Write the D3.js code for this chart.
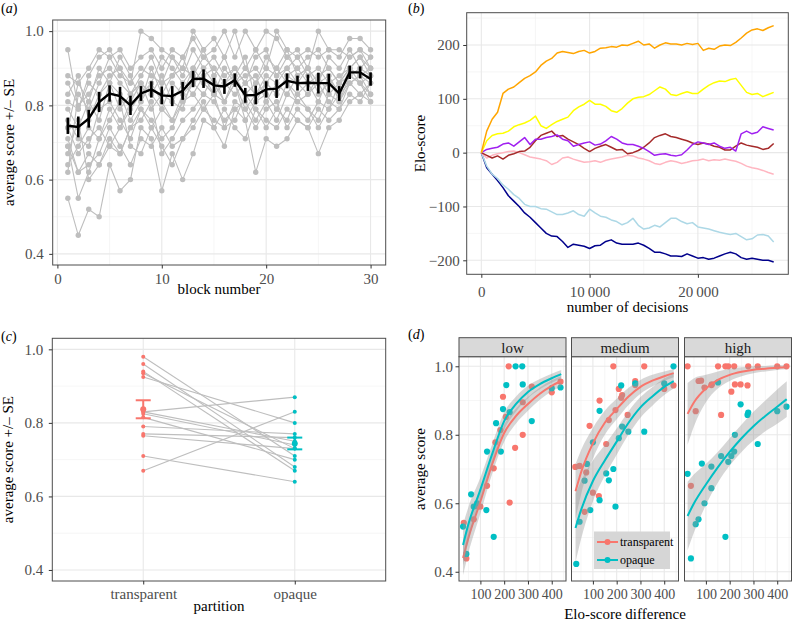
<!DOCTYPE html>
<html><head><meta charset="utf-8">
<script src="https://cdn.jsdelivr.net/npm/d3@7"></script>
<style>body{margin:0;background:#fff}svg{display:block}</style>
</head><body><svg id="c" width="792" height="622"></svg>
<script>
// ---------------- DATA ----------------
// (a) individual participants' average score per block, and the mean +/- SE
const blocks = [1,2,3,4,5,6,7,8,9,10,11,12,13,14,15,16,17,18,19,20,21,22,23,24,25,26,27,28,29,30];
const participantScores = [
 [0.55,0.45,0.52,0.50,0.64,0.57,0.60,0.74,0.71,0.57,0.67,0.60,0.67,0.76,0.74,0.69,0.79,0.76,0.62,0.71,0.69,0.71,0.76,0.74,0.67,0.74,0.76,0.81,0.83,0.81],
 [0.95,0.79,0.88,0.93,0.95,0.90,0.86,1.00,0.98,0.95,0.93,0.90,1.00,0.95,0.98,0.93,1.00,0.90,0.95,1.00,0.98,0.93,0.95,0.90,1.00,0.95,0.93,0.98,0.98,0.95],
 [0.88,0.86,0.90,0.95,0.93,0.95,0.90,0.93,0.95,0.90,0.95,0.93,0.98,0.93,0.95,1.00,0.93,1.00,0.95,0.90,1.00,0.95,0.93,0.95,0.93,0.95,0.95,0.93,0.95,0.93],
 [0.86,0.80,0.83,0.88,0.90,0.86,0.83,0.88,0.93,0.86,0.88,0.90,0.88,0.93,0.90,0.86,0.88,0.83,0.86,0.90,0.88,0.90,0.93,0.88,0.90,0.86,0.88,0.90,0.93,0.90],
 [0.83,0.88,0.76,0.83,0.86,0.79,0.83,0.86,0.83,0.79,0.86,0.83,0.90,0.86,0.83,0.90,0.86,0.79,0.83,0.86,0.83,0.88,0.86,0.90,0.83,0.86,0.83,0.88,0.90,0.88],
 [0.79,0.74,0.81,0.76,0.86,0.83,0.76,0.81,0.90,0.83,0.81,0.79,0.88,0.86,0.83,0.81,0.86,0.76,0.81,0.83,0.79,0.86,0.81,0.83,0.86,0.81,0.79,0.86,0.88,0.86],
 [0.76,0.71,0.69,0.79,0.81,0.76,0.71,0.79,0.76,0.71,0.74,0.81,0.83,0.79,0.76,0.74,0.81,0.79,0.74,0.79,0.81,0.74,0.79,0.76,0.81,0.79,0.83,0.86,0.83,0.86],
 [0.74,0.67,0.71,0.74,0.69,0.67,0.74,0.76,0.81,0.67,0.71,0.76,0.79,0.83,0.81,0.76,0.79,0.81,0.76,0.81,0.76,0.83,0.81,0.79,0.76,0.83,0.81,0.86,0.88,0.83],
 [0.71,0.62,0.64,0.67,0.74,0.69,0.64,0.71,0.69,0.74,0.69,0.71,0.76,0.81,0.74,0.79,0.74,0.71,0.79,0.76,0.74,0.79,0.76,0.74,0.79,0.76,0.79,0.83,0.81,0.86],
 [0.69,0.55,0.62,0.71,0.76,0.81,0.69,0.67,0.74,0.79,0.76,0.81,0.86,0.88,0.83,0.86,0.90,0.86,0.83,0.88,0.86,0.90,0.86,0.83,0.88,0.90,0.86,0.90,0.88,0.90],
 [0.67,0.76,0.60,0.64,0.69,0.74,0.79,0.83,0.86,0.81,0.76,0.83,0.86,0.90,0.86,0.81,0.86,0.88,0.90,0.86,0.83,0.88,0.90,0.86,0.88,0.83,0.86,0.88,0.86,0.88],
 [0.64,0.69,0.74,0.71,0.79,0.74,0.81,0.86,0.83,0.88,0.81,0.86,0.83,0.88,0.90,0.86,0.83,0.86,0.88,0.81,0.86,0.83,0.88,0.90,0.86,0.88,0.83,0.90,0.93,0.88],
 [0.62,0.83,0.79,0.86,0.93,0.88,0.86,0.90,0.88,0.86,0.93,0.88,0.95,0.90,0.93,0.88,0.90,0.86,0.93,0.95,0.88,0.93,0.90,0.93,0.95,0.90,0.86,0.93,0.95,0.90],
 [0.74,0.86,0.81,0.90,0.86,0.93,0.88,0.81,0.86,0.93,0.90,0.86,0.90,0.95,0.88,0.93,0.86,0.90,0.86,0.93,0.90,0.95,0.88,0.90,0.86,0.93,0.90,0.95,0.90,0.93],
 [0.81,0.79,0.86,0.83,0.88,0.90,0.83,0.86,0.79,0.83,0.88,0.93,0.86,0.83,0.88,0.81,0.88,0.93,0.81,0.86,0.90,0.86,0.83,0.86,0.81,0.88,0.81,0.88,0.86,0.81],
 [0.69,0.62,0.67,0.64,0.71,0.67,0.74,0.79,0.74,0.69,0.64,0.71,0.74,0.79,0.83,0.74,0.76,0.83,0.79,0.74,0.79,0.76,0.83,0.79,0.74,0.79,0.86,0.90,0.86,0.83]
];
const meanScore = [0.745,0.742,0.764,0.809,0.832,0.825,0.800,0.832,0.843,0.827,0.825,0.839,0.871,0.872,0.854,0.851,0.868,0.827,0.828,0.843,0.845,0.866,0.860,0.861,0.860,0.860,0.832,0.889,0.889,0.871];
const meanSE = [0.022,0.028,0.024,0.027,0.022,0.025,0.026,0.020,0.022,0.024,0.027,0.024,0.022,0.025,0.020,0.020,0.018,0.020,0.025,0.022,0.025,0.020,0.020,0.022,0.028,0.025,0.020,0.018,0.016,0.018];

// (b) Elo-score trajectories, sampled every 500 decisions
const eloDecisions = d3.range(0, 27001, 500);
const eloOrange = [0,40,62,75,110,118,122,130,138,143,150,162,170,175,185,188,186,184,188,190,185,188,194,195,197,196,200,199,203,207,200,202,194,200,204,202,202,200,203,201,203,190,194,192,198,200,199,205,213,222,228,230,227,232,236];
const eloYellow = [0,22,32,35,36,40,48,52,55,60,68,50,45,52,58,62,66,78,85,90,97,90,90,86,78,75,82,92,100,103,104,108,115,122,118,108,106,110,113,110,110,118,125,130,133,132,136,138,125,112,108,110,104,108,112];
const eloPurple = [0,6,8,10,16,18,12,20,28,15,25,25,28,30,33,25,22,12,15,18,20,14,16,22,30,25,18,15,15,12,8,2,-5,-3,-2,-5,-6,-4,5,15,20,18,15,18,12,8,10,3,35,40,35,38,48,45,42];
const eloBrown = [0,-5,-10,-6,-12,-5,-2,2,3,10,22,32,36,40,30,32,25,20,15,8,2,8,12,15,10,5,6,-2,0,4,10,18,28,32,35,30,28,25,22,18,15,18,16,12,10,5,5,12,18,14,12,10,6,8,17];
const eloPink = [0,-10,-5,-2,0,2,3,0,-4,-8,-10,-12,-15,-22,-18,-10,-8,-12,-15,-18,-17,-15,-18,-14,-12,-10,-8,-5,-6,-10,-12,-15,-20,-22,-18,-15,-17,-20,-18,-15,-14,-12,-15,-13,-14,-12,-14,-16,-20,-25,-28,-30,-33,-37,-40];
const eloLightBlue = [0,-25,-40,-48,-60,-68,-78,-85,-96,-100,-100,-104,-105,-110,-115,-115,-112,-108,-115,-118,-105,-112,-118,-120,-125,-128,-134,-130,-122,-135,-142,-140,-135,-138,-130,-122,-122,-128,-132,-130,-138,-140,-142,-145,-148,-150,-152,-150,-156,-162,-160,-153,-152,-155,-166];
const eloNavy = [0,-28,-40,-52,-65,-80,-90,-100,-112,-120,-130,-140,-150,-155,-156,-165,-176,-170,-172,-174,-178,-173,-172,-165,-162,-168,-170,-170,-170,-168,-172,-178,-185,-185,-188,-192,-192,-193,-188,-192,-196,-195,-198,-196,-192,-188,-185,-188,-195,-198,-196,-198,-200,-200,-203];
const eloSeries = [eloNavy, eloLightBlue, eloPink, eloBrown, eloPurple, eloYellow, eloOrange];

// (c) per-participant average score by partition
const partitions = ['transparent','opaque'];
const transparentScores = [0.98,0.96,0.94,0.935,0.925,0.83,0.83,0.825,0.815,0.79,0.77,0.765,0.71,0.67];
const opaqueScores      = [0.71,0.68,0.67,0.73,0.80,0.87,0.75,0.74,0.70,0.77,0.76,0.73,0.64,0.83];
const partitionMean = [0.837,0.744];
const partitionSE = [0.0245,0.016];

// (d) average score vs Elo-score difference, by facet and partition
const facets = ['low','medium','high'];
const lowTransparent = [[30,0.543],[41,0.439],[72,0.553],[90,0.59],[100,0.59],[128,0.651],[156,0.702],[163,0.778],[184,0.814],[195,0.911],[207,0.852],[219,1.0],[223,0.602],[246,0.762],[278,0.80],[278,0.895],[316,0.941],[400,0.924],[437,0.955]];
const lowOpaque = [[27,0.532],[41,0.452],[61,0.626],[72,0.59],[86,0.60],[125,0.58],[128,0.751],[156,0.502],[166,0.834],[186,0.751],[195,0.875],[209,0.945],[223,0.866],[248,1.0],[276,1.0],[278,0.947],[316,0.84],[400,0.936],[437,0.938]];
const mediumTransparent = [[26,0.706],[44,0.709],[65,0.575],[72,0.69],[86,0.826],[100,0.631],[125,0.621],[128,0.90],[156,0.773],[167,0.843],[186,1.0],[195,0.872],[209,0.934],[219,0.908],[223,0.916],[246,0.858],[278,0.957],[278,0.945],[316,1.0],[400,0.934],[439,0.944]];
const mediumOpaque = [[30,0.423],[44,0.546],[65,0.666],[75,0.715],[89,0.58],[100,0.778],[128,0.609],[128,0.87],[156,0.687],[167,0.667],[186,0.70],[195,0.59],[209,0.79],[219,0.944],[223,0.824],[249,0.809],[278,0.95],[316,0.809],[400,0.95],[439,1.0]];
const highTransparent = [[23,1.0],[37,0.651],[57,0.869],[69,0.957],[80,0.958],[94,0.938],[123,0.945],[125,0.947],[151,1.0],[164,0.858],[182,1.0],[194,1.0],[207,0.926],[219,1.0],[222,0.947],[246,0.947],[275,0.944],[278,1.0],[318,1.0],[400,1.0],[439,1.0]];
const highOpaque = [[23,0.686],[37,0.439],[57,0.539],[69,0.553],[83,0.716],[94,0.60],[123,0.707],[123,0.644],[151,0.953],[164,0.738],[182,0.502],[194,0.721],[207,0.738],[219,0.751],[222,0.80],[246,0.889],[275,0.858],[278,0.865],[318,0.773],[400,0.869],[439,0.882]];
const fitXLow = [27,50,100,150,200,250,300,350,400,440];
const fitXMedium = [27,50,100,150,200,250,300,350,400,440];
const fitXHigh = [23,50,100,150,200,250,300,350,400,440];
const fitLowT = [0.44,0.50,0.605,0.715,0.805,0.855,0.89,0.92,0.943,0.957];
const seLowT  = [0.05,0.045,0.035,0.028,0.025,0.022,0.02,0.018,0.016,0.015];
const fitLowO = [0.478,0.54,0.64,0.745,0.84,0.89,0.925,0.948,0.965,0.977];
const seLowO  = [0.06,0.05,0.035,0.028,0.025,0.022,0.018,0.015,0.013,0.012];
const fitMedT = [0.635,0.69,0.775,0.835,0.875,0.912,0.94,0.958,0.971,0.98];
const seMedT  = [0.08,0.065,0.045,0.035,0.03,0.025,0.02,0.017,0.014,0.012];
const fitMedO = [0.528,0.58,0.665,0.725,0.78,0.835,0.88,0.912,0.94,0.957];
const seMedO  = [0.1,0.085,0.06,0.045,0.038,0.034,0.03,0.027,0.024,0.022];
const fitHighT = [0.861,0.895,0.935,0.96,0.975,0.984,0.99,0.993,0.996,0.997];
const seHighT  = [0.09,0.07,0.04,0.025,0.018,0.013,0.01,0.008,0.007,0.006];
const fitHighO = [0.563,0.60,0.655,0.705,0.75,0.79,0.825,0.855,0.882,0.904];
const seHighO  = [0.1,0.085,0.06,0.045,0.04,0.04,0.042,0.045,0.05,0.052];

// ---------------- STYLE ----------------
const FONT = "'Liberation Serif','Times New Roman',serif";
const RED = '#F8766D', TEAL = '#00BFC4';
const eloColors = ['#00008B','#ADD8E6','#FFB6C1','#A52A2A','#A020F0','#FFFF00','#FFA500'];
const svg = d3.select('#c');

function grid(g, x, y, xMaj, xMin, yMaj, yMin) {
  const [x0, x1] = x.range(); const [yb, yt] = y.range();
  g.append('rect').attr('x', x0).attr('y', yt).attr('width', x1 - x0).attr('height', yb - yt).attr('fill', '#fff');
  const vl = (vals, w, c) => g.append('g').selectAll('line').data(vals).join('line')
    .attr('x1', d => x(d)).attr('x2', d => x(d)).attr('y1', yt).attr('y2', yb).attr('stroke', c).attr('stroke-width', w);
  const hl = (vals, w, c) => g.append('g').selectAll('line').data(vals).join('line')
    .attr('y1', d => y(d)).attr('y2', d => y(d)).attr('x1', x0).attr('x2', x1).attr('stroke', c).attr('stroke-width', w);
  vl(xMin, 0.6, '#F0F0F0'); hl(yMin, 0.6, '#F0F0F0');
  vl(xMaj, 1.1, '#E8E8E8'); hl(yMaj, 1.1, '#E8E8E8');
}
function border(g, x, y) {
  const [x0, x1] = x.range(); const [yb, yt] = y.range();
  g.append('rect').attr('x', x0).attr('y', yt).attr('width', x1 - x0).attr('height', yb - yt)
    .attr('fill', 'none').attr('stroke', '#4d4d4d').attr('stroke-width', 1);
}
function styleAxis(a, size) {
  a.attr('font-family', FONT).attr('font-size', size);
  a.select('.domain').remove();
  a.selectAll('line').attr('stroke', '#333');
  a.selectAll('text').attr('fill', '#4D4D4D');
}
function yAxis(g, y, xpos, vals, fmt, pad, size) {
  const a = g.append('g').attr('transform', `translate(${xpos},0)`)
    .call(d3.axisLeft(y).tickValues(vals).tickFormat(fmt).tickSize(3.5).tickPadding(pad));
  styleAxis(a, size);
}
function xAxis(g, x, ypos, vals, fmt, pad, size) {
  const a = g.append('g').attr('transform', `translate(0,${ypos})`)
    .call(d3.axisBottom(x).tickValues(vals).tickFormat(fmt).tickSize(3.5).tickPadding(pad));
  styleAxis(a, size);
}
function title(txt, x, y, rot) {
  const t = svg.append('text').attr('font-family', FONT).attr('font-size', 15).attr('fill', '#000')
    .attr('text-anchor', 'middle').text(txt);
  if (rot) t.attr('transform', `translate(${x},${y}) rotate(-90)`); else t.attr('x', x).attr('y', y);
}
function tag(letter, x, y) {
  const t = svg.append('text').attr('font-family', FONT).attr('font-size', 14).attr('x', x).attr('y', y);
  t.append('tspan').text('(');
  t.append('tspan').attr('font-style', 'italic').text(letter);
  t.append('tspan').text(')');
}
const f1 = d3.format('.1f');

// ---------------- PANEL A ----------------
{
  const g = svg.append('g');
  const x = d3.scaleLinear([-0.45, 31.45], [52.7, 385.7]);
  const y = d3.scaleLinear([0.37, 1.03], [265, 20]);
  grid(g, x, y, [0, 10, 20, 30], [5, 15, 25], [0.4, 0.6, 0.8, 1.0], [0.5, 0.7, 0.9]);
  const line = d3.line().x((d, i) => x(blocks[i])).y(d => y(d));
  participantScores.forEach(p => {
    g.append('path').attr('d', line(p)).attr('fill', 'none').attr('stroke', '#BEBEBE').attr('stroke-width', 1.1);
    g.append('g').selectAll('circle').data(p).join('circle')
      .attr('cx', (d, i) => x(blocks[i])).attr('cy', d => y(d)).attr('r', 2.7).attr('fill', '#BEBEBE');
  });
  g.append('path').attr('d', line(meanScore)).attr('fill', 'none').attr('stroke', '#000').attr('stroke-width', 2.4);
  g.append('g').selectAll('line').data(meanScore).join('line')
    .attr('x1', (d, i) => x(blocks[i])).attr('x2', (d, i) => x(blocks[i]))
    .attr('y1', (d, i) => y(d - meanSE[i])).attr('y2', (d, i) => y(d + meanSE[i]))
    .attr('stroke', '#000').attr('stroke-width', 2.6);
  border(g, x, y);
  yAxis(g, y, 52.7, [0.4, 0.6, 0.8, 1.0], f1, 5.5, 15);
  xAxis(g, x, 265, [0, 10, 20, 30], d3.format('d'), 4.8, 15);
  title('average score +/\u2013 SE', 14, 142.5, true);
  title('block number', 219, 294);
  tag('a', 1, 13);
}

// ---------------- PANEL B ----------------
{
  const g = svg.append('g');
  const x = d3.scaleLinear([-1350, 28350], [466.7, 788.3]);
  const y = d3.scaleLinear([-226, 260], [274.3, 12.7]);
  grid(g, x, y, [0, 10000, 20000], [5000, 15000, 25000], [-200, -100, 0, 100, 200], [-150, -50, 50, 150, 250]);
  const line = d3.line().x((d, i) => x(eloDecisions[i])).y(d => y(d));
  eloSeries.forEach((s, k) => {
    g.append('path').attr('d', line(s)).attr('fill', 'none').attr('stroke', eloColors[k])
      .attr('stroke-width', 1.5).attr('stroke-linejoin', 'round');
  });
  border(g, x, y);
  yAxis(g, y, 466.7, [-200, -100, 0, 100, 200], d => d < 0 ? '\u2212' + Math.abs(d) : String(d), 3.5, 15);
  xAxis(g, x, 274.3, [0, 10000, 20000], d => d === 0 ? '0' : (d / 1000) + '\u2009000', 8.5, 15);
  title('Elo-score', 425, 143.5, true);
  title('number of decisions', 627.5, 312);
  tag('b', 408, 13);
}

// ---------------- PANEL C ----------------
{
  const g = svg.append('g');
  const x = d3.scalePoint(partitions, [52.3, 385.7]).padding(0.6);
  const y = d3.scaleLinear([0.37, 1.03], [581, 338.3]);
  grid(g, x, y, partitions, [], [0.4, 0.6, 0.8, 1.0], [0.5, 0.7, 0.9]);
  g.append('g').selectAll('line').data(transparentScores).join('line')
    .attr('x1', x('transparent')).attr('x2', x('opaque'))
    .attr('y1', d => y(d)).attr('y2', (d, i) => y(opaqueScores[i]))
    .attr('stroke', '#BEBEBE').attr('stroke-width', 1.1);
  g.append('g').selectAll('circle').data(transparentScores).join('circle')
    .attr('cx', x('transparent')).attr('cy', d => y(d)).attr('r', 2).attr('fill', RED);
  g.append('g').selectAll('circle').data(opaqueScores).join('circle')
    .attr('cx', x('opaque')).attr('cy', d => y(d)).attr('r', 2).attr('fill', TEAL);
  partitions.forEach((p, i) => {
    const c = i === 0 ? RED : TEAL, cx = x(p), m = partitionMean[i], se = partitionSE[i];
    const eb = g.append('g').attr('stroke', c).attr('stroke-width', 2);
    eb.append('line').attr('x1', cx).attr('x2', cx).attr('y1', y(m - se)).attr('y2', y(m + se));
    eb.append('line').attr('x1', cx - 7.5).attr('x2', cx + 7.5).attr('y1', y(m - se)).attr('y2', y(m - se));
    eb.append('line').attr('x1', cx - 7.5).attr('x2', cx + 7.5).attr('y1', y(m + se)).attr('y2', y(m + se));
    g.append('circle').attr('cx', cx).attr('cy', y(m)).attr('r', 3).attr('fill', c);
  });
  border(g, x, y);
  yAxis(g, y, 52.3, [0.4, 0.6, 0.8, 1.0], f1, 5.5, 15);
  xAxis(g, x, 581, partitions, d => d, 4.3, 15);
  title('average score +/\u2013 SE', 13, 459.6, true);
  title('partition', 219, 611);
  tag('c', 1, 341);
}

// ---------------- PANEL D ----------------
{
  const ranges = [[459, 566], [571.5, 678.5], [684.5, 791.5]];
  const pts = [[lowTransparent, lowOpaque], [mediumTransparent, mediumOpaque], [highTransparent, highOpaque]];
  const fitX = [fitXLow, fitXMedium, fitXHigh];
  const fits = [[[fitLowT, seLowT], [fitLowO, seLowO]], [[fitMedT, seMedT], [fitMedO, seMedO]], [[fitHighT, seHighT], [fitHighO, seHighO]]];
  const y = d3.scaleLinear([0.373, 1.028], [581, 356.7]);
  facets.forEach((f, k) => {
    const g = svg.append('g');
    const x = d3.scaleLinear([10, 460], ranges[k]);
    grid(g, x, y, [100, 200, 300, 400], [50, 150, 250, 350, 450], [0.4, 0.6, 0.8, 1.0], [0.5, 0.7, 0.9]);
    [0, 1].forEach(j => {
      g.append('g').selectAll('circle').data(pts[k][j]).join('circle')
        .attr('cx', d => x(d[0])).attr('cy', d => y(d[1])).attr('r', 3.1).attr('fill', j === 0 ? RED : TEAL);
    });
    [0, 1].forEach(j => {
      const [fit, se] = fits[k][j]; const xs = fitX[k];
      const area = d3.area().curve(d3.curveMonotoneX).x((d, i) => x(xs[i]))
        .y0((d, i) => y(d - se[i])).y1((d, i) => y(Math.min(d + se[i], 1.02)));
      g.append('path').attr('d', area(fit)).attr('fill', '#999').attr('fill-opacity', 0.4);
      const line = d3.line().curve(d3.curveMonotoneX).x((d, i) => x(xs[i])).y(d => y(d));
      g.append('path').attr('d', line(fit)).attr('fill', 'none').attr('stroke', j === 0 ? RED : TEAL).attr('stroke-width', 2);
    });
    border(g, x, y);
    // strip
    g.append('rect').attr('x', ranges[k][0]).attr('y', 337.7).attr('width', ranges[k][1] - ranges[k][0]).attr('height', 19)
      .attr('fill', '#D9D9D9').attr('stroke', '#4d4d4d').attr('stroke-width', 1);
    g.append('text').attr('x', (ranges[k][0] + ranges[k][1]) / 2).attr('y', 352.5).attr('text-anchor', 'middle')
      .attr('font-family', FONT).attr('font-size', 15).attr('fill', '#1A1A1A').text(f);
    xAxis(g, x, 581, [100, 200, 300, 400], d3.format('d'), 4.8, 14);
    if (k === 0) yAxis(g, y, 459, [0.4, 0.6, 0.8, 1.0], f1, 2.5, 15);
  });
  // legend
  const lg = svg.append('g');
  lg.append('rect').attr('x', 594).attr('y', 531.5).attr('width', 76).attr('height', 37.5).attr('fill', '#D6D6D6');
  [['transparent', RED, 542], ['opaque', TEAL, 560]].forEach(([lab, c, yy]) => {
    lg.append('line').attr('x1', 597).attr('x2', 618).attr('y1', yy).attr('y2', yy).attr('stroke', c).attr('stroke-width', 2);
    lg.append('circle').attr('cx', 607.5).attr('cy', yy).attr('r', 3).attr('fill', c);
    lg.append('text').attr('x', 620).attr('y', yy + 4).attr('font-family', FONT).attr('font-size', 12).attr('fill', '#000').text(lab);
  });
  title('average score', 425, 469, true);
  title('Elo-score difference', 625, 619);
  tag('d', 408, 339);
}
</script></body></html>
